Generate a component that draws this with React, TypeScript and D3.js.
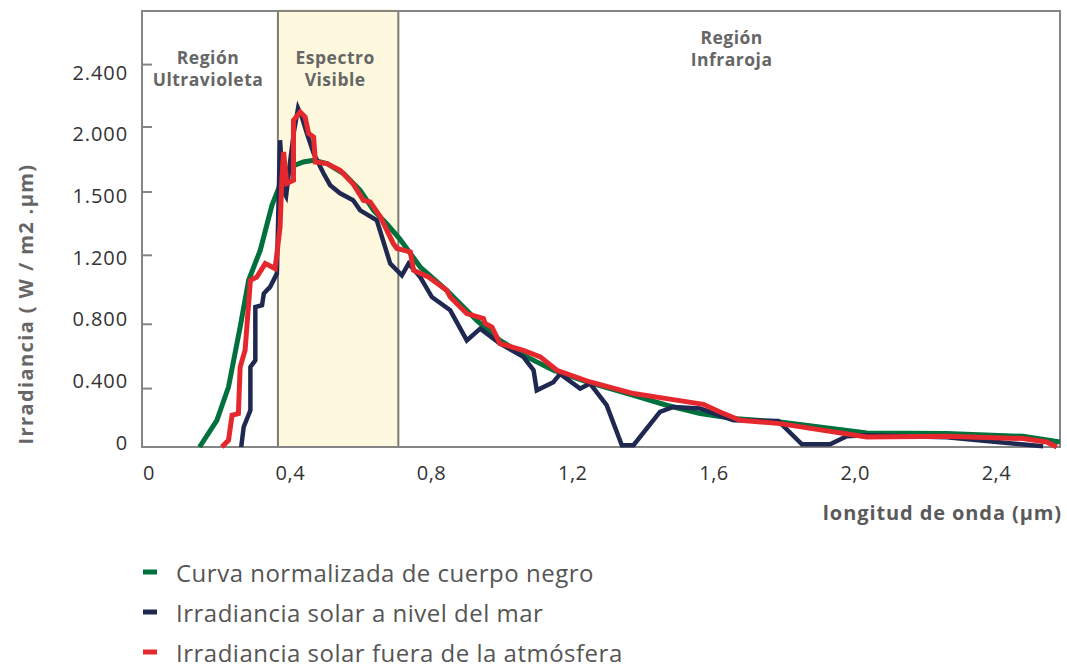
import React from 'react';
import * as d3 from 'd3';

// Wavelength (µm) / irradiance (W/m²·µm) pairs for each series
const curvaCuerpoNegro: [number, number][] = [
  [0.143, 0], [0.192, 183], [0.225, 410], [0.258, 783], [0.282, 1055], [0.315, 1224],
  [0.348, 1437], [0.367, 1528], [0.371, 1567], [0.4, 1692], [0.437, 1731], [0.466, 1744],
  [0.504, 1718], [0.551, 1642], [0.598, 1513], [0.636, 1413], [0.673, 1350], [0.711, 1276],
  [0.768, 1132], [0.843, 997], [0.928, 823], [0.994, 700], [1.07, 597], [1.145, 514],
  [1.24, 441], [1.372, 354], [1.466, 286], [1.561, 229], [1.655, 195], [1.787, 171],
  [2.033, 96], [2.259, 92], [2.475, 73], [2.58, 34],
];

const nivelDelMar: [number, number][] = [
  [0.261, 0], [0.268, 137], [0.287, 251], [0.287, 534], [0.301, 576], [0.301, 900],
  [0.32, 910], [0.325, 978], [0.343, 1017], [0.362, 1094], [0.371, 1898], [0.38, 1508],
  [0.388, 1480], [0.4, 1744], [0.411, 1975], [0.422, 2120], [0.434, 2056], [0.447, 1951],
  [0.466, 1798], [0.494, 1644], [0.513, 1552], [0.541, 1494], [0.578, 1461], [0.598, 1413],
  [0.645, 1366], [0.683, 1152], [0.716, 1084], [0.735, 1152], [0.768, 1074], [0.801, 958],
  [0.853, 881], [0.9, 700], [0.938, 773], [0.994, 680], [1.06, 597], [1.089, 514],
  [1.098, 388], [1.145, 440], [1.164, 491], [1.221, 400], [1.249, 431], [1.296, 286],
  [1.339, 12], [1.372, 12], [1.447, 240], [1.485, 274], [1.561, 263], [1.655, 183],
  [1.782, 178], [1.849, 18], [1.929, 18], [1.976, 73], [2.033, 80], [2.259, 66], [2.532, 5],
];

const fueraAtmosfera: [number, number][] = [
  [0.206, 0], [0.225, 46], [0.235, 217], [0.253, 229], [0.258, 534], [0.272, 639],
  [0.287, 1055], [0.305, 1074], [0.329, 1152], [0.357, 1123], [0.371, 1334], [0.376, 1590],
  [0.381, 1808], [0.39, 1565], [0.409, 1590], [0.409, 2043], [0.428, 2096], [0.442, 2064],
  [0.452, 1950], [0.466, 1923], [0.471, 1731], [0.504, 1718], [0.541, 1667], [0.579, 1559],
  [0.607, 1461], [0.626, 1453], [0.655, 1382], [0.692, 1255], [0.702, 1232], [0.74, 1216],
  [0.749, 1113], [0.791, 1074], [0.843, 997], [0.853, 958], [0.9, 862], [0.947, 833],
  [0.952, 804], [0.971, 783], [0.994, 680], [1.06, 638], [1.108, 597], [1.155, 514],
  [1.249, 441], [1.372, 366], [1.466, 331], [1.57, 292], [1.617, 240], [1.674, 183],
  [1.787, 160], [2.033, 68], [2.259, 73], [2.475, 58], [2.542, 34], [2.571, 0],
];

// Axis ticks
const xTicks = [0, 0.4, 0.8, 1.2, 1.6, 2.0, 2.4];
const xTickLabels = ['0', '0,4', '0,8', '1,2', '1,6', '2,0', '2,4'];
const yTicks = [0, 400, 800, 1200, 1500, 2000, 2400];
const yTickLabels = ['0', '0.400', '0.800', '1.200', '1.500', '2.000', '2.400'];

// Spectral regions (µm)
const visibleRange: [number, number] = [0.365, 0.706];
const regions = [
  { lines: ['Región', 'Ultravioleta'], at: 0.167, top: 0 },
  { lines: ['Espectro', 'Visible'], at: 0.527, top: 0 },
  { lines: ['Región', 'Infraroja'], at: 1.65, top: -20 },
];

const series = [
  { name: 'Curva normalizada de cuerpo negro', data: curvaCuerpoNegro, color: '#00703c', width: 5 },
  { name: 'Irradiancia solar a nivel del mar', data: nivelDelMar, color: '#1f2850', width: 4.5 },
  { name: 'Irradiancia solar fuera de la atmósfera', data: fueraAtmosfera, color: '#e5282d', width: 5 },
];

const W = 1067;
const H = 667;
const plot = { left: 142, top: 11, right: 1060, bottom: 447 };
const FONT = "'Open Sans', 'Noto Sans', sans-serif";

export default function App() {
  const x = d3.scaleLinear().domain([-0.02, 2.58]).range([plot.left, plot.right]);
  const ph = plot.bottom - plot.top;
  // piecewise scale following the printed tick spacing
  const y = d3
    .scaleLinear()
    .domain(yTicks)
    .range([0, 0.134, 0.2815, 0.4397, 0.5849, 0.734, 0.8771].map((f) => plot.bottom - f * ph));
  const yLabelPos = d3
    .scalePoint<string>()
    .domain(yTickLabels)
    .range([plot.bottom - 5, plot.top + 61]);

  const line = d3
    .line<[number, number]>()
    .x((d) => x(d[0]))
    .y((d) => y(d[1]));

  const axisColor = '#858585';

  return (
    <svg width={W} height={H} style={{ position: 'absolute', left: 0, top: 0, background: '#fff' }}>
      {/* visible spectrum band */}
      <rect
        x={x(visibleRange[0])}
        y={plot.top - 2}
        width={x(visibleRange[1]) - x(visibleRange[0])}
        height={plot.bottom - plot.top + 2}
        fill="#fdf8de"
      />
      {visibleRange.map((v, i) => (
        <line key={i} x1={x(v)} x2={x(v)} y1={plot.top} y2={plot.bottom} stroke="#7d7b70" strokeWidth={2} />
      ))}

      {/* frame */}
      <rect
        x={plot.left}
        y={plot.top}
        width={plot.right - plot.left}
        height={plot.bottom - plot.top}
        fill="none"
        stroke={axisColor}
        strokeWidth={2}
      />

      {/* y ticks */}
      {yTicks.map((t, i) =>
        t === 0 ? null : (
          <line key={i} x1={plot.left} x2={plot.left + 10} y1={y(t)} y2={y(t)} stroke={axisColor} strokeWidth={2} />
        )
      )}
      {yTickLabels.map((l) => (
        <text
          key={l}
          x={128}
          y={yLabelPos(l)}
          textAnchor="end"
          dominantBaseline="central"
          fontFamily={FONT}
          fontSize={20}
          letterSpacing={0.9}
          fill="#333"
        >
          {l}
        </text>
      ))}

      {/* x tick labels */}
      {xTicks.map((t, i) => (
        <text
          key={i}
          x={x(t)}
          y={472}
          textAnchor="middle"
          dominantBaseline="central"
          fontFamily={FONT}
          fontSize={20}
          letterSpacing={0.5}
          fill="#333"
        >
          {xTickLabels[i]}
        </text>
      ))}

      {/* region labels */}
      {regions.map((r, i) =>
        r.lines.map((s, j) => (
          <text
            key={`${i}-${j}`}
            x={x(r.at)}
            y={57 + r.top + j * 22}
            textAnchor="middle"
            dominantBaseline="central"
            fontFamily={FONT}
            fontWeight={700}
            fontSize={17.5}
            letterSpacing={0.5}
            fill="#666"
          >
            {s}
          </text>
        ))
      )}

      {/* curves */}
      {series.map((s) => (
        <path key={s.name} d={line(s.data) ?? ''} fill="none" stroke={s.color} strokeWidth={s.width} />
      ))}

      {/* axis titles */}
      <text
        transform={`translate(25, 304) rotate(-90)`}
        textAnchor="middle"
        dominantBaseline="central"
        fontFamily={FONT}
        fontWeight={700}
        fontSize={20}
        letterSpacing={1.4}
        fill="#666"
      >
        Irradiancia ( W / m2 .µm)
      </text>
      <text
        x={plot.right + 2}
        y={512}
        textAnchor="end"
        dominantBaseline="central"
        fontFamily={FONT}
        fontWeight={700}
        fontSize={20}
        letterSpacing={0.9}
        fill="#5a5a5a"
      >
        longitud de onda (µm)
      </text>

      {/* legend */}
      {series.map((s, i) => (
        <g key={s.name} transform={`translate(143, ${572 + i * 40})`}>
          <rect x={0} y={-2.5} width={14} height={5} fill={s.color} />
          <text
            x={33}
            y={0}
            dominantBaseline="central"
            fontFamily={FONT}
            fontSize={24}
            letterSpacing={0.5}
            fill="#555"
          >
            {s.name}
          </text>
        </g>
      ))}
    </svg>
  );
}
